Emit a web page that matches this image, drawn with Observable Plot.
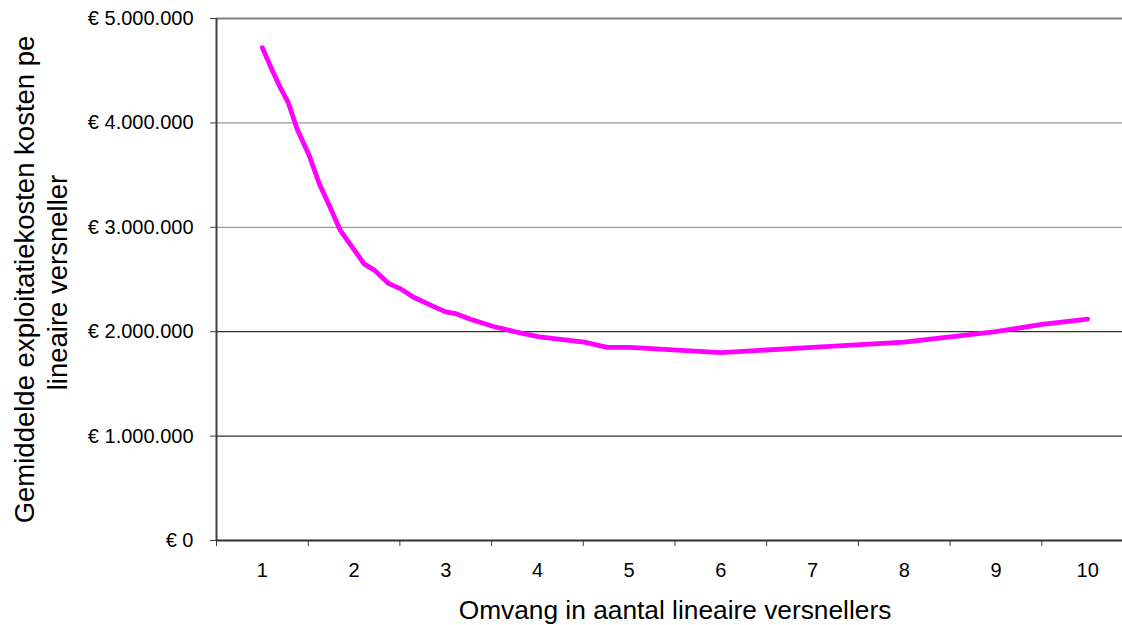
<!DOCTYPE html>
<html>
<head>
<meta charset="utf-8">
<script src="https://cdn.jsdelivr.net/npm/d3@7"></script>
<script src="https://cdn.jsdelivr.net/npm/@observablehq/plot@0.6"></script>
<style>
  html, body { margin: 0; padding: 0; background: #fff; overflow: hidden; }
  #chart svg { display: block; }
</style>
</head>
<body>
<div id="chart"></div>
<script>
// Omvang (aantal lineaire versnellers) and average operating cost per accelerator (EUR)
const sizes = [1.0, 1.11, 1.2, 1.28, 1.38, 1.51, 1.62, 1.74, 1.85, 1.98, 2.11, 2.22, 2.38, 2.51, 2.65, 2.87, 3.0, 3.12, 3.27, 3.52, 3.75, 4.02, 4.51, 4.76, 5.01, 6.0, 7.0, 8.0, 8.5, 9.0, 9.5, 10.0];
const costs = [4720000, 4500000, 4330000, 4200000, 3940000, 3690000, 3420000, 3190000, 2970000, 2810000, 2650000, 2590000, 2460000, 2410000, 2330000, 2240000, 2190000, 2170000, 2120000, 2050000, 2000000, 1950000, 1900000, 1850000, 1850000, 1800000, 1850000, 1900000, 1950000, 2000000, 2070000, 2120000];
const categories = [1, 2, 3, 4, 5, 6, 7, 8, 9, 10];
const categoryBounds = [0.5, 1.5, 2.5, 3.5, 4.5, 5.5, 6.5, 7.5, 8.5, 9.5, 10.5];
const yTicks = [0, 1000000, 2000000, 3000000, 4000000, 5000000];
const gridBlack = [1000000, 2000000];
const gridGray = [3000000, 4000000];
const xTitle = "Omvang in aantal lineaire versnellers";
const yTitle1 = "Gemiddelde exploitatiekosten kosten pe";
const yTitle2 = "lineaire versneller";

const data = sizes.map((s, i) => ({size: s, cost: costs[i]}));
const euro = d => "€ " + d3.format(",")(d).replace(/,/g, ".");
const font = "'Liberation Sans', Arial, sans-serif";

const chart = Plot.plot({
  width: 1122,
  height: 625,
  marginLeft: 216,
  marginRight: -11,
  marginTop: 18,
  marginBottom: 85,
  style: {fontFamily: font, color: "#000", background: "#fff"},
  x: {domain: [0.5, 10.5]},
  y: {domain: [0, 5000000]},
  marks: [
    Plot.ruleY(gridGray, {stroke: "#808080", strokeWidth: 1}),
    Plot.ruleY(gridBlack, {stroke: "#000", strokeWidth: 1}),
    Plot.ruleY([5000000], {stroke: "#808080", strokeWidth: 2}),
    Plot.axisY({ticks: yTicks, tickSize: 6, tickPadding: 17, tickFormat: euro, fontSize: 20, label: null, stroke: "#404040"}),
    Plot.axisX({ticks: categoryBounds, tickSize: 6, tickFormat: () => "", label: null, stroke: "#404040"}),
    Plot.axisX({ticks: categories, tickSize: 0, tickPadding: 22, fontSize: 20, label: null}),
    Plot.ruleX([0.5], {y1: 0, y2: 5000000, stroke: "#404040", strokeWidth: 2}),
    Plot.ruleY([0], {stroke: "#303030", strokeWidth: 2}),
    Plot.line(data, {x: "size", y: "cost", stroke: "#ff00ff", strokeWidth: 4.8, strokeLinejoin: "round", strokeLinecap: "round"}),
    Plot.text([xTitle], {frameAnchor: "bottom", lineAnchor: "bottom", dy: 78, fontSize: 26.3, fill: "#000"}),
    Plot.text([yTitle1], {frameAnchor: "left", textAnchor: "middle", rotate: -90, dx: -191, dy: 0, fontSize: 27.5, fill: "#000"}),
    Plot.text([yTitle2], {frameAnchor: "left", textAnchor: "middle", rotate: -90, dx: -158, dy: 3, fontSize: 27.5, fill: "#000"})
  ]
});
document.getElementById("chart").appendChild(chart);
</script>
</body>
</html>
